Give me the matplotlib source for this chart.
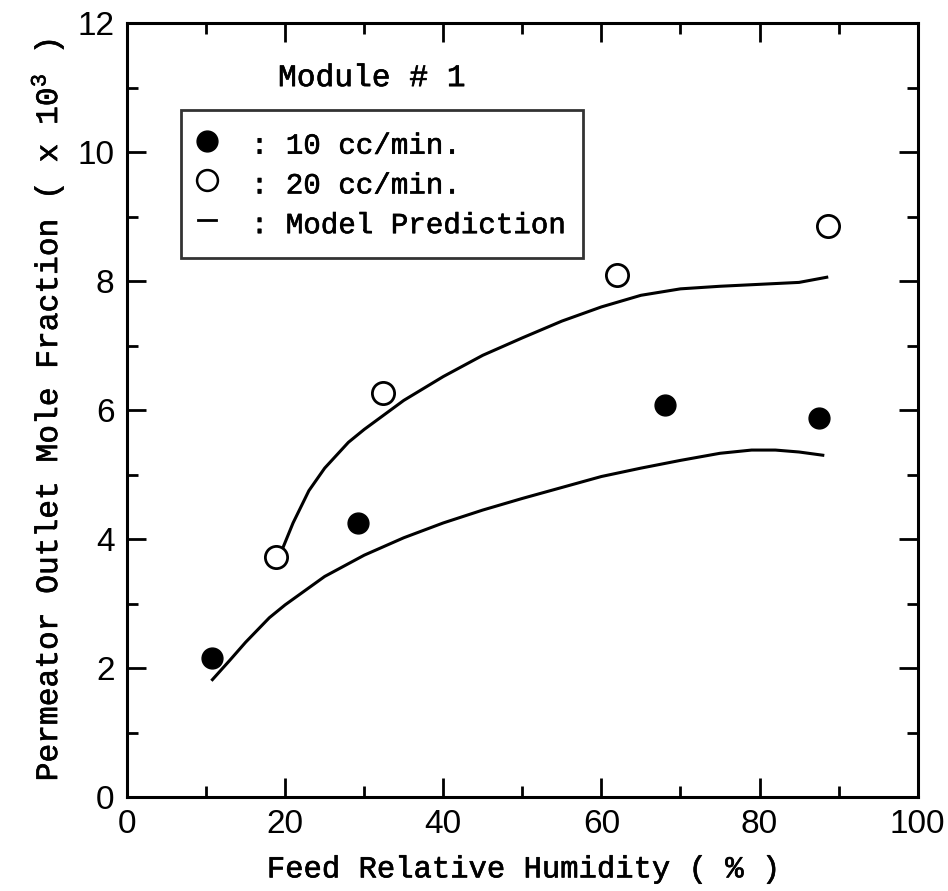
import matplotlib
matplotlib.use('Agg')
import matplotlib.pyplot as plt
import matplotlib.patheffects as pe
from matplotlib.lines import Line2D
from matplotlib.ticker import MultipleLocator

plt.rcParams['mathtext.default'] = 'regular'

# measured permeate outlet mole fraction (x 10^3)
rh_10 = [10.8, 29.2, 68.1, 87.5]
frac_10 = [2.15, 4.25, 6.08, 5.88]
rh_20 = [18.9, 32.4, 62.0, 88.6]
frac_20 = [3.72, 6.27, 8.10, 8.85]

# model prediction curves
model_rh_10 = [10.8, 13, 15, 18, 20, 25, 30, 35, 40, 45, 50, 55, 60, 65, 70, 75, 79, 82, 85, 88]
model_10 = [1.82, 2.12, 2.40, 2.78, 2.98, 3.42, 3.75, 4.02, 4.25, 4.45, 4.63, 4.80, 4.97,
            5.10, 5.22, 5.33, 5.38, 5.38, 5.35, 5.30]
model_rh_20 = [19.5, 21, 23, 25, 28, 30, 35, 40, 45, 50, 55, 60, 65, 70, 75, 80, 85, 88.5]
model_20 = [3.80, 4.25, 4.75, 5.10, 5.50, 5.70, 6.15, 6.52, 6.85, 7.12, 7.38, 7.60, 7.78,
            7.88, 7.92, 7.95, 7.98, 8.06]

mono = 'Liberation Mono'
sans = 'Liberation Sans'
# thicken the thin typewriter strokes a little
heavy = [pe.withStroke(linewidth=0.45, foreground='black')]


def plot_permeate():
    fig = plt.figure(figsize=(9.48, 8.91), dpi=100)
    ax = fig.add_axes([0.134, 0.1055, 0.834, 0.8685])

    ax.plot(model_rh_10, model_10, color='black', lw=2.2)
    ax.plot(model_rh_20, model_20, color='black', lw=2.2)
    ax.plot(rh_10, frac_10, 'o', color='black', ms=15, ls='none')
    ax.plot(rh_20, frac_20, 'o', mfc='white', mec='black', mew=2, ms=16, ls='none')

    ax.set_xlim(0, 100)
    ax.set_ylim(0, 12)
    ax.xaxis.set_major_locator(MultipleLocator(20))
    ax.xaxis.set_minor_locator(MultipleLocator(10))
    ax.yaxis.set_major_locator(MultipleLocator(2))
    ax.yaxis.set_minor_locator(MultipleLocator(1))
    ax.tick_params(which='both', direction='in', top=True, right=True,
                   width=2, labelsize=24, pad=9)
    ax.tick_params(which='major', length=14)
    ax.tick_params(which='minor', length=8)
    for lab in ax.get_xticklabels() + ax.get_yticklabels():
        lab.set_fontfamily(sans)
    for sp in ax.spines.values():
        sp.set_linewidth(2.2)

    ax.set_xlabel('Feed Relative Humidity ( % )', fontsize=22, family=mono,
                  labelpad=10, path_effects=heavy)
    ax.set_ylabel('Permeator Outlet Mole Fraction ( x 10$^{3}$ )', fontsize=22.5,
                  family=mono, labelpad=8, path_effects=heavy)

    ax.text(0.191, 0.929, 'Module # 1', transform=ax.transAxes, fontsize=22.5,
            family=mono, ha='left', va='center', path_effects=heavy)

    handles = [
        Line2D([], [], marker='o', color='black', ms=15, ls='none'),
        Line2D([], [], marker='o', mfc='white', mec='black', mew=1.8, ms=15, ls='none'),
        Line2D([], [], color='black', lw=2),
    ]
    labels = [': 10 cc/min.', ': 20 cc/min.', ': Model Prediction']
    leg = ax.legend(handles, labels, loc='upper left', bbox_to_anchor=(0.068, 0.888),
                    prop={'family': mono, 'size': 21},
                    frameon=True, fancybox=False, handlelength=0.6, handleheight=1.38,
                    handletextpad=1.2, borderpad=0.6, labelspacing=0.22,
                    borderaxespad=0)
    for t in leg.get_texts():
        t.set_path_effects(heavy)
    leg.get_frame().set_edgecolor('black')
    leg.get_frame().set_linewidth(2)

    fig.savefig('out.png', dpi=100)


if __name__ == '__main__':
    plot_permeate()
